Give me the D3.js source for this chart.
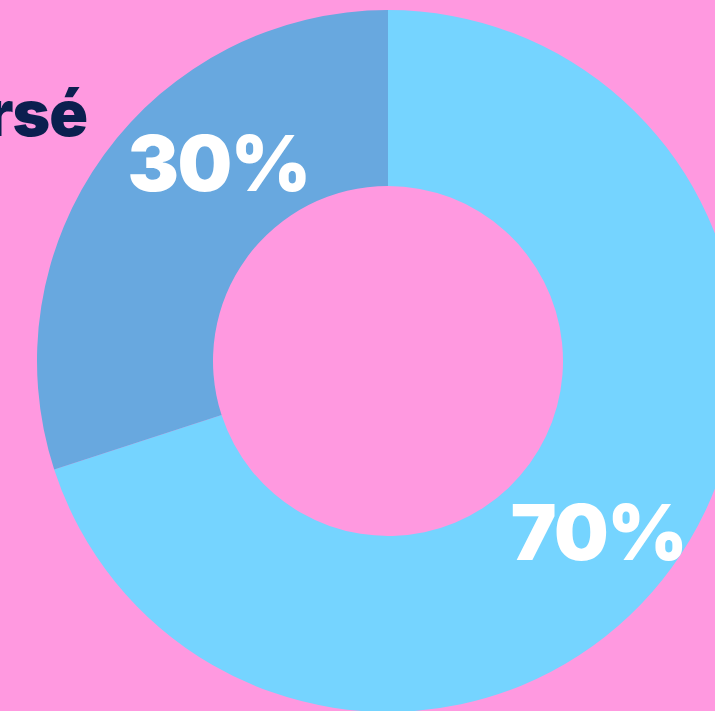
<!DOCTYPE html>
<html><head><meta charset="utf-8">
<script src="https://cdn.jsdelivr.net/npm/d3@7"></script>
<style>html,body{margin:0;padding:0;background:#FF99E0;overflow:hidden}</style>
</head><body>
<svg id="c" width="715" height="711"></svg>
<script>
const categories = ["Autre", "Inversé"];
const values = [70, 30];
const labels = ["70%", "30%"];
const colors = ["#75D4FF", "#68A8DF"];
const title = "Inversé";

const W = 715, H = 711;
const cx = 388, cy = 361, rOuter = 351, rInner = 175;
const svg = d3.select("#c");
svg.append("rect").attr("width", W).attr("height", H).attr("fill", "#FF99E0");

const pie = d3.pie().sort(null).value(d => d)(values);
const arc = d3.arc().innerRadius(rInner).outerRadius(rOuter);
const g = svg.append("g").attr("transform", `translate(${cx},${cy})`);
g.selectAll("path").data(pie).join("path")
  .attr("d", arc).attr("fill", (d, i) => colors[i]);

const labelArc = d3.arc().innerRadius(270).outerRadius(270);
const shifts = [[-8, 12], [49, -39]];
g.selectAll("text.lab").data(pie).join("text")
  .attr("class", "lab")
  .attr("x", (d, i) => labelArc.centroid(d)[0] + shifts[i][0])
  .attr("y", (d, i) => labelArc.centroid(d)[1] + shifts[i][1])
  .attr("text-anchor", "middle").attr("dominant-baseline", "central")
  .attr("fill", "#fff")
  .style("font-family", "Inter, 'Open Sans', sans-serif")
  .style("font-weight", 900).style("font-size", "77px")
  .style("letter-spacing", "-1.5px")
  .text((d, i) => labels[i]);

svg.append("text").attr("x", 87).attr("y", 136)
  .attr("text-anchor", "end").attr("fill", "#0B1F4F")
  .style("font-family", "Inter, 'Open Sans', sans-serif")
  .style("font-weight", 900).style("font-size", "64px")
  .style("letter-spacing", "-1px")
  .text(title);
</script>
</body></html>
